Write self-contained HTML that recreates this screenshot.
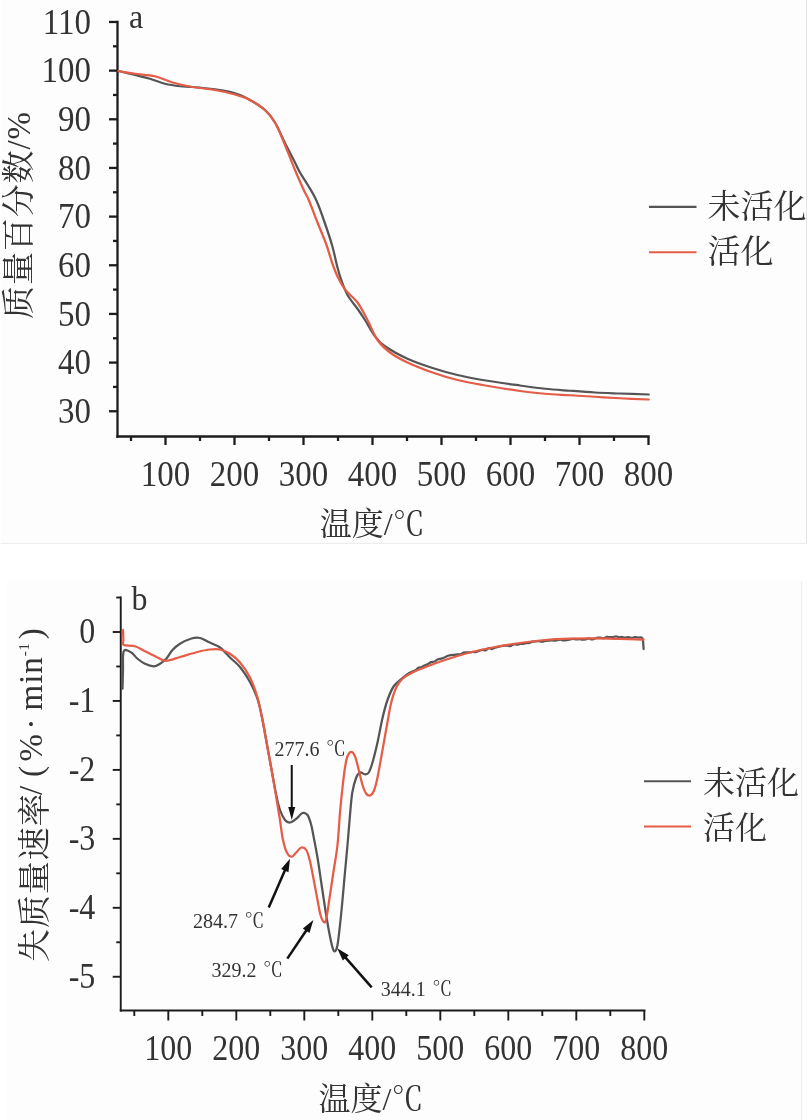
<!DOCTYPE html>
<html lang="zh-CN">
<head>
<meta charset="utf-8">
<title>TG / DTG 曲线</title>
<style>
html,body{margin:0;padding:0;background:#fff;}
body{width:808px;height:1120px;overflow:hidden;position:relative;font-family:"Liberation Serif", "Noto Serif CJK SC", serif;}
.panel{position:absolute;background:#fdfdfd;box-sizing:border-box;}
#pa{left:1px;top:0;width:806px;height:544px;border-right:1px solid #e4e4e4;border-bottom:1px solid #ededed;}
#pb{left:6px;top:581px;width:796px;height:539px;border-right:1px solid #eeeeee;}
svg{position:absolute;left:0;top:0;filter:blur(0.4px);}
text{font-family:"Liberation Serif", "Noto Serif CJK SC", serif;fill:#333;}
.lab{font-size:32px;}
.yl{font-size:33px;letter-spacing:0.9px;}
.ann{font-size:20px;word-spacing:1.5px;}
.ax{stroke:#1c1c1c;fill:none;}
.cg{stroke:#555555;fill:none;stroke-width:2.25;stroke-linejoin:round;stroke-linecap:round;}
.cr{stroke:#e55c47;fill:none;stroke-width:2.25;stroke-linejoin:round;stroke-linecap:round;}
.arr{stroke:#111;fill:none;}
.ah{fill:#111;stroke:none;}
</style>
</head>
<body>
<div class="panel" id="pa"></div>
<div class="panel" id="pb"></div>
<svg width="808" height="1120" viewBox="0 0 808 1120">

<g class="ax" stroke-width="2.3">
<path d="M117.5,20.85 V437.65"/>
<path d="M116.35,436.5 H649.65"/>
<path d="M109.0,411.25 H117.5"/>
<path d="M113.0,386.92 H117.5"/>
<path d="M109.0,362.59 H117.5"/>
<path d="M113.0,338.26 H117.5"/>
<path d="M109.0,313.93 H117.5"/>
<path d="M113.0,289.60 H117.5"/>
<path d="M109.0,265.27 H117.5"/>
<path d="M113.0,240.94 H117.5"/>
<path d="M109.0,216.61 H117.5"/>
<path d="M113.0,192.28 H117.5"/>
<path d="M109.0,167.95 H117.5"/>
<path d="M113.0,143.62 H117.5"/>
<path d="M109.0,119.29 H117.5"/>
<path d="M113.0,94.96 H117.5"/>
<path d="M109.0,70.63 H117.5"/>
<path d="M113.0,46.30 H117.5"/>
<path d="M109.0,21.97 H117.5"/>
<path d="M131.00,436.5 V441.0"/>
<path d="M165.50,436.5 V445.0"/>
<path d="M200.00,436.5 V441.0"/>
<path d="M234.50,436.5 V445.0"/>
<path d="M269.00,436.5 V441.0"/>
<path d="M303.50,436.5 V445.0"/>
<path d="M338.00,436.5 V441.0"/>
<path d="M372.50,436.5 V445.0"/>
<path d="M407.00,436.5 V441.0"/>
<path d="M441.50,436.5 V445.0"/>
<path d="M476.00,436.5 V441.0"/>
<path d="M510.50,436.5 V445.0"/>
<path d="M545.00,436.5 V441.0"/>
<path d="M579.50,436.5 V445.0"/>
<path d="M614.00,436.5 V441.0"/>
<path d="M648.50,436.5 V445.0"/>
</g>
<g class="tk" font-size="33">
<text transform="translate(91,423.05) scale(1,1.09)" text-anchor="end">30</text>
<text transform="translate(91,374.39) scale(1,1.09)" text-anchor="end">40</text>
<text transform="translate(91,325.73) scale(1,1.09)" text-anchor="end">50</text>
<text transform="translate(91,277.07) scale(1,1.09)" text-anchor="end">60</text>
<text transform="translate(91,228.41) scale(1,1.09)" text-anchor="end">70</text>
<text transform="translate(91,179.75) scale(1,1.09)" text-anchor="end">80</text>
<text transform="translate(91,131.09) scale(1,1.09)" text-anchor="end">90</text>
<text transform="translate(91,82.43) scale(1,1.09)" text-anchor="end">100</text>
<text transform="translate(91,33.77) scale(1,1.09)" text-anchor="end">110</text>
<text transform="translate(165.50,485.8) scale(1,1.09)" text-anchor="middle">100</text>
<text transform="translate(234.50,485.8) scale(1,1.09)" text-anchor="middle">200</text>
<text transform="translate(303.50,485.8) scale(1,1.09)" text-anchor="middle">300</text>
<text transform="translate(372.50,485.8) scale(1,1.09)" text-anchor="middle">400</text>
<text transform="translate(441.50,485.8) scale(1,1.09)" text-anchor="middle">500</text>
<text transform="translate(510.50,485.8) scale(1,1.09)" text-anchor="middle">600</text>
<text transform="translate(579.50,485.8) scale(1,1.09)" text-anchor="middle">700</text>
<text transform="translate(648.50,485.8) scale(1,1.09)" text-anchor="middle">800</text>
</g>
<path class="cg" d="M118.50,71.00 C121.25,71.67 129.75,73.71 135.00,75.00 C140.25,76.29 145.00,77.29 150.00,78.75 C155.00,80.21 160.00,82.50 165.00,83.75 C170.00,85.00 175.42,85.71 180.00,86.25 C184.58,86.79 186.67,86.50 192.50,87.00 C198.33,87.50 208.75,88.46 215.00,89.25 C221.25,90.04 225.83,90.79 230.00,91.75 C234.17,92.71 236.67,93.62 240.00,95.00 C243.33,96.38 245.83,97.50 250.00,100.00 C254.17,102.50 260.83,106.25 265.00,110.00 C269.17,113.75 271.67,117.00 275.00,122.50 C278.33,128.00 281.67,136.33 285.00,143.00 C288.33,149.67 292.50,157.58 295.00,162.50 C297.50,167.42 296.67,166.67 300.00,172.50 C303.33,178.33 311.04,189.58 315.00,197.50 C318.96,205.42 320.92,212.08 323.75,220.00 C326.58,227.92 329.71,237.08 332.00,245.00 C334.29,252.92 335.96,261.67 337.50,267.50 C339.04,273.33 339.58,275.42 341.25,280.00 C342.92,284.58 344.79,290.21 347.50,295.00 C350.21,299.79 354.58,304.58 357.50,308.75 C360.42,312.92 362.08,315.42 365.00,320.00 C367.92,324.58 371.67,331.88 375.00,336.25 C378.33,340.62 379.58,342.50 385.00,346.25 C390.42,350.00 399.58,355.12 407.50,358.75 C415.42,362.38 424.17,365.29 432.50,368.00 C440.83,370.71 449.17,373.00 457.50,375.00 C465.83,377.00 472.08,378.25 482.50,380.00 C492.92,381.75 509.58,384.04 520.00,385.50 C530.42,386.96 536.67,387.88 545.00,388.75 C553.33,389.62 561.67,390.12 570.00,390.75 C578.33,391.38 586.67,392.04 595.00,392.50 C603.33,392.96 611.04,393.17 620.00,393.50 C628.96,393.83 643.96,394.33 648.75,394.50"/>
<path class="cr" d="M118.50,71.00 C121.25,71.46 128.92,72.88 135.00,73.75 C141.08,74.62 148.75,74.79 155.00,76.25 C161.25,77.71 166.25,80.71 172.50,82.50 C178.75,84.29 185.42,85.75 192.50,87.00 C199.58,88.25 207.92,88.75 215.00,90.00 C222.08,91.25 229.17,92.83 235.00,94.50 C240.83,96.17 245.00,97.42 250.00,100.00 C255.00,102.58 260.83,106.25 265.00,110.00 C269.17,113.75 271.67,116.67 275.00,122.50 C278.33,128.33 281.67,137.08 285.00,145.00 C288.33,152.92 291.88,162.50 295.00,170.00 C298.12,177.50 301.46,185.00 303.75,190.00 C306.04,195.00 306.46,194.58 308.75,200.00 C311.04,205.42 314.54,215.00 317.50,222.50 C320.46,230.00 324.08,238.33 326.50,245.00 C328.92,251.67 330.08,257.08 332.00,262.50 C333.92,267.92 335.75,272.92 338.00,277.50 C340.25,282.08 342.25,285.83 345.50,290.00 C348.75,294.17 353.83,297.50 357.50,302.50 C361.17,307.50 364.17,313.75 367.50,320.00 C370.83,326.25 373.75,334.58 377.50,340.00 C381.25,345.42 385.00,348.75 390.00,352.50 C395.00,356.25 400.42,359.17 407.50,362.50 C414.58,365.83 424.17,369.58 432.50,372.50 C440.83,375.42 449.17,377.92 457.50,380.00 C465.83,382.08 472.08,383.17 482.50,385.00 C492.92,386.83 509.58,389.54 520.00,391.00 C530.42,392.46 536.67,393.04 545.00,393.75 C553.33,394.46 561.67,394.75 570.00,395.25 C578.33,395.75 586.67,396.25 595.00,396.75 C603.33,397.25 611.04,397.79 620.00,398.25 C628.96,398.71 643.96,399.29 648.75,399.50"/>
<text class="lab" transform="translate(129,28) scale(1,1.08)">a</text>
<text class="yl" transform="translate(30,215) rotate(-90)" text-anchor="middle">质量百分数/%</text>
<text class="lab" x="372.3" y="535" text-anchor="middle">温度/℃</text>
<path d="M649,206.9 H696.5" stroke="#555555" stroke-width="2.1"/>
<path d="M649,252.3 H696.5" stroke="#e55c47" stroke-width="2.1"/>
<text class="leg" font-size="33" x="707.5" y="217.5">未活化</text>
<text class="leg" font-size="33" x="707.5" y="263">活化</text>
<g class="ax" stroke-width="1.9">
<path d="M120.75,596.55 V1011.45"/>
<path d="M119.8,1010.5 H645.45"/>
<path d="M116.25,597.52 H120.75"/>
<path d="M112.75,632.00 H120.75"/>
<path d="M116.25,666.48 H120.75"/>
<path d="M112.75,700.95 H120.75"/>
<path d="M116.25,735.42 H120.75"/>
<path d="M112.75,769.90 H120.75"/>
<path d="M116.25,804.38 H120.75"/>
<path d="M112.75,838.85 H120.75"/>
<path d="M116.25,873.33 H120.75"/>
<path d="M112.75,907.80 H120.75"/>
<path d="M116.25,942.28 H120.75"/>
<path d="M112.75,976.75 H120.75"/>
<path d="M134.30,1010.5 V1016.0"/>
<path d="M168.30,1010.5 V1020.5"/>
<path d="M202.30,1010.5 V1016.0"/>
<path d="M236.30,1010.5 V1020.5"/>
<path d="M270.30,1010.5 V1016.0"/>
<path d="M304.30,1010.5 V1020.5"/>
<path d="M338.30,1010.5 V1016.0"/>
<path d="M372.30,1010.5 V1020.5"/>
<path d="M406.30,1010.5 V1016.0"/>
<path d="M440.30,1010.5 V1020.5"/>
<path d="M474.30,1010.5 V1016.0"/>
<path d="M508.30,1010.5 V1020.5"/>
<path d="M542.30,1010.5 V1016.0"/>
<path d="M576.30,1010.5 V1020.5"/>
<path d="M610.30,1010.5 V1016.0"/>
<path d="M644.30,1010.5 V1020.5"/>
</g>
<g class="tk" font-size="32">
<text transform="translate(95.3,643.40) scale(1,1.11)" text-anchor="end">0</text>
<text transform="translate(95.3,712.35) scale(1,1.11)" text-anchor="end">-1</text>
<text transform="translate(95.3,781.30) scale(1,1.11)" text-anchor="end">-2</text>
<text transform="translate(95.3,850.25) scale(1,1.11)" text-anchor="end">-3</text>
<text transform="translate(95.3,919.20) scale(1,1.11)" text-anchor="end">-4</text>
<text transform="translate(95.3,988.15) scale(1,1.11)" text-anchor="end">-5</text>
<text transform="translate(168.30,1060.2) scale(1,1.11)" text-anchor="middle">100</text>
<text transform="translate(236.30,1060.2) scale(1,1.11)" text-anchor="middle">200</text>
<text transform="translate(304.30,1060.2) scale(1,1.11)" text-anchor="middle">300</text>
<text transform="translate(372.30,1060.2) scale(1,1.11)" text-anchor="middle">400</text>
<text transform="translate(440.30,1060.2) scale(1,1.11)" text-anchor="middle">500</text>
<text transform="translate(508.30,1060.2) scale(1,1.11)" text-anchor="middle">600</text>
<text transform="translate(576.30,1060.2) scale(1,1.11)" text-anchor="middle">700</text>
<text transform="translate(644.30,1060.2) scale(1,1.11)" text-anchor="middle">800</text>
</g>
<path class="cg" d="M122.50,688.75 C122.58,685.62 122.79,676.25 123.00,670.00 C123.21,663.75 122.38,654.17 123.75,651.25 C125.12,648.33 128.96,651.25 131.25,652.50 C133.54,653.75 135.21,656.88 137.50,658.75 C139.79,660.62 142.29,662.50 145.00,663.75 C147.71,665.00 151.25,666.25 153.75,666.25 C156.25,666.25 157.92,665.00 160.00,663.75 C162.08,662.50 164.17,661.04 166.25,658.75 C168.33,656.46 170.21,652.50 172.50,650.00 C174.79,647.50 176.83,645.67 180.00,643.75 C183.17,641.83 188.17,639.46 191.50,638.50 C194.83,637.54 197.17,637.42 200.00,638.00 C202.83,638.58 205.17,640.42 208.50,642.00 C211.83,643.58 216.42,644.92 220.00,647.50 C223.58,650.08 226.67,654.25 230.00,657.50 C233.33,660.75 236.67,662.92 240.00,667.00 C243.33,671.08 247.08,676.67 250.00,682.00 C252.92,687.33 255.42,692.67 257.50,699.00 C259.58,705.33 260.83,711.92 262.50,720.00 C264.17,728.08 265.83,738.33 267.50,747.50 C269.17,756.67 271.04,767.08 272.50,775.00 C273.96,782.92 275.00,789.17 276.25,795.00 C277.50,800.83 278.54,805.83 280.00,810.00 C281.46,814.17 283.33,817.92 285.00,820.00 C286.67,822.08 288.12,822.71 290.00,822.50 C291.88,822.29 294.17,820.33 296.25,818.75 C298.33,817.17 300.62,813.62 302.50,813.00 C304.38,812.38 306.04,813.00 307.50,815.00 C308.96,817.00 310.21,821.25 311.25,825.00 C312.29,828.75 312.71,832.08 313.75,837.50 C314.79,842.92 316.25,850.00 317.50,857.50 C318.75,865.00 320.00,874.17 321.25,882.50 C322.50,890.83 323.75,899.58 325.00,907.50 C326.25,915.42 327.50,923.33 328.75,930.00 C330.00,936.67 331.46,943.96 332.50,947.50 C333.54,951.04 334.17,951.67 335.00,951.25 C335.83,950.83 336.67,949.38 337.50,945.00 C338.33,940.62 339.17,932.50 340.00,925.00 C340.83,917.50 341.67,908.83 342.50,900.00 C343.33,891.17 344.17,881.17 345.00,872.00 C345.83,862.83 346.67,854.50 347.50,845.00 C348.33,835.50 349.20,823.75 350.00,815.00 C350.80,806.25 351.26,798.75 352.30,792.50 C353.34,786.25 354.97,780.83 356.25,777.50 C357.53,774.17 358.54,773.04 360.00,772.50 C361.46,771.96 363.54,774.25 365.00,774.25 C366.46,774.25 367.50,774.46 368.75,772.50 C370.00,770.54 371.04,767.50 372.50,762.50 C373.96,757.50 375.83,749.92 377.50,742.50 C379.17,735.08 380.83,725.08 382.50,718.00 C384.17,710.92 385.62,705.29 387.50,700.00 C389.38,694.71 391.25,689.92 393.75,686.25 C396.25,682.58 400.49,679.79 402.50,678.00 C404.51,676.21 404.72,676.34 405.83,675.52 C406.94,674.69 408.06,673.71 409.17,673.04 C410.28,672.37 411.44,671.95 412.50,671.50 C413.56,671.05 414.50,670.94 415.50,670.33 C416.50,669.72 417.50,668.36 418.50,667.85 C419.50,667.34 420.50,667.64 421.50,667.24 C422.50,666.85 423.50,665.99 424.50,665.50 C425.50,665.01 426.42,664.87 427.50,664.30 C428.58,663.73 429.83,662.57 431.00,662.10 C432.17,661.64 433.33,661.99 434.50,661.51 C435.67,661.04 436.83,659.76 438.00,659.27 C439.17,658.78 440.33,658.91 441.50,658.58 C442.67,658.25 443.90,657.77 445.00,657.30 C446.10,656.83 447.08,656.15 448.12,655.78 C449.17,655.40 450.21,655.21 451.25,655.06 C452.29,654.92 453.33,655.04 454.38,654.91 C455.42,654.79 456.46,654.39 457.50,654.30 C458.54,654.21 459.58,654.67 460.62,654.39 C461.67,654.11 462.71,652.97 463.75,652.62 C464.79,652.28 465.83,652.36 466.88,652.30 C467.92,652.25 468.96,652.36 470.00,652.30 C471.04,652.24 472.08,652.02 473.12,651.97 C474.17,651.91 475.21,652.18 476.25,651.98 C477.29,651.78 478.33,651.10 479.38,650.75 C480.42,650.40 481.46,649.93 482.50,649.86 C483.54,649.80 484.58,650.64 485.62,650.34 C486.67,650.05 487.71,648.33 488.75,648.11 C489.79,647.89 490.83,649.06 491.88,649.01 C492.92,648.96 493.96,648.14 495.00,647.80 C496.04,647.46 497.08,647.21 498.12,646.95 C499.17,646.68 500.21,646.42 501.25,646.21 C502.29,646.00 503.33,645.80 504.38,645.69 C505.42,645.58 506.46,645.50 507.50,645.56 C508.54,645.61 509.58,646.19 510.62,645.99 C511.67,645.80 512.71,644.60 513.75,644.38 C514.79,644.15 515.83,644.68 516.88,644.62 C517.92,644.56 518.96,644.12 520.00,644.00 C521.04,643.88 522.08,644.04 523.12,643.88 C524.17,643.71 525.21,643.17 526.25,643.02 C527.29,642.87 528.33,643.18 529.38,642.96 C530.42,642.74 531.46,641.98 532.50,641.71 C533.54,641.44 534.58,641.41 535.62,641.33 C536.67,641.25 537.71,641.16 538.75,641.22 C539.79,641.28 540.83,641.74 541.88,641.70 C542.92,641.66 543.96,641.17 545.00,641.00 C546.04,640.83 547.08,640.80 548.12,640.68 C549.17,640.56 550.21,640.31 551.25,640.29 C552.29,640.28 553.33,640.61 554.38,640.59 C555.42,640.57 556.46,640.31 557.50,640.17 C558.54,640.02 559.58,639.66 560.62,639.70 C561.67,639.74 562.71,640.35 563.75,640.40 C564.79,640.46 565.83,640.20 566.88,640.05 C567.92,639.89 568.96,639.69 570.00,639.50 C571.04,639.31 572.08,638.93 573.12,638.91 C574.17,638.90 575.21,639.34 576.25,639.38 C577.29,639.43 578.33,639.12 579.38,639.17 C580.42,639.22 581.46,639.66 582.50,639.68 C583.54,639.69 584.58,639.51 585.62,639.29 C586.67,639.07 587.71,638.33 588.75,638.37 C589.79,638.40 590.83,639.47 591.88,639.49 C592.92,639.51 593.98,638.82 595.00,638.50 C596.02,638.18 597.00,637.66 598.00,637.55 C599.00,637.44 600.00,637.73 601.00,637.83 C602.00,637.94 603.00,638.35 604.00,638.18 C605.00,638.02 606.00,637.00 607.00,636.83 C608.00,636.67 609.00,637.15 610.00,637.20 C611.00,637.25 612.00,637.29 613.00,637.13 C614.00,636.98 615.00,636.23 616.00,636.27 C617.00,636.31 618.00,637.23 619.00,637.35 C620.00,637.47 620.96,636.97 622.00,637.00 C623.04,637.03 624.17,637.49 625.25,637.53 C626.33,637.56 627.42,637.18 628.50,637.23 C629.58,637.28 630.67,637.83 631.75,637.83 C632.83,637.82 633.83,637.25 635.00,637.20 C636.17,637.15 637.50,637.30 638.75,637.51 C640.00,637.73 641.69,636.59 642.50,638.50 C643.31,640.41 643.42,647.25 643.60,649.00"/>
<path class="cr" d="M123.00,630.00 C123.07,631.67 123.28,637.50 123.40,640.00 C123.53,642.50 121.82,643.96 123.75,645.00 C125.68,646.04 131.46,645.21 135.00,646.25 C138.54,647.29 141.25,649.38 145.00,651.25 C148.75,653.12 153.96,655.92 157.50,657.50 C161.04,659.08 162.50,660.83 166.25,660.75 C170.00,660.67 174.79,658.46 180.00,657.00 C185.21,655.54 192.50,653.25 197.50,652.00 C202.50,650.75 206.25,649.92 210.00,649.50 C213.75,649.08 216.67,648.79 220.00,649.50 C223.33,650.21 226.67,651.58 230.00,653.75 C233.33,655.92 236.67,658.54 240.00,662.50 C243.33,666.46 247.08,671.67 250.00,677.50 C252.92,683.33 255.42,690.42 257.50,697.50 C259.58,704.58 260.83,711.67 262.50,720.00 C264.17,728.33 265.83,738.33 267.50,747.50 C269.17,756.67 270.83,765.42 272.50,775.00 C274.17,784.58 276.25,797.50 277.50,805.00 C278.75,812.50 279.17,814.58 280.00,820.00 C280.83,825.42 281.46,832.29 282.50,837.50 C283.54,842.71 284.79,848.04 286.25,851.25 C287.71,854.46 289.58,856.54 291.25,856.75 C292.92,856.96 294.58,854.04 296.25,852.50 C297.92,850.96 299.58,847.92 301.25,847.50 C302.92,847.08 304.79,847.71 306.25,850.00 C307.71,852.29 308.75,856.25 310.00,861.25 C311.25,866.25 312.50,873.54 313.75,880.00 C315.00,886.46 316.38,894.17 317.50,900.00 C318.62,905.83 319.46,911.33 320.50,915.00 C321.54,918.67 322.79,921.38 323.75,922.00 C324.71,922.62 325.21,923.25 326.25,918.75 C327.29,914.25 328.75,903.12 330.00,895.00 C331.25,886.88 332.50,878.33 333.75,870.00 C335.00,861.67 336.46,854.58 337.50,845.00 C338.54,835.42 339.17,822.08 340.00,812.50 C340.83,802.92 341.67,795.00 342.50,787.50 C343.33,780.00 344.17,772.71 345.00,767.50 C345.83,762.29 346.46,758.88 347.50,756.25 C348.54,753.62 350.00,751.75 351.25,751.75 C352.50,751.75 353.75,753.21 355.00,756.25 C356.25,759.29 357.50,765.21 358.75,770.00 C360.00,774.79 361.25,781.04 362.50,785.00 C363.75,788.96 365.00,792.00 366.25,793.75 C367.50,795.50 368.75,795.92 370.00,795.50 C371.25,795.08 372.50,794.25 373.75,791.25 C375.00,788.25 376.04,784.38 377.50,777.50 C378.96,770.62 380.83,759.25 382.50,750.00 C384.17,740.75 386.04,729.92 387.50,722.00 C388.96,714.08 389.79,708.25 391.25,702.50 C392.71,696.75 394.38,691.46 396.25,687.50 C398.12,683.54 399.79,681.25 402.50,678.75 C405.21,676.25 408.33,674.58 412.50,672.50 C416.67,670.42 422.08,668.33 427.50,666.25 C432.92,664.17 437.92,662.29 445.00,660.00 C452.08,657.71 461.67,654.67 470.00,652.50 C478.33,650.33 486.67,648.58 495.00,647.00 C503.33,645.42 511.67,644.17 520.00,643.00 C528.33,641.83 536.67,640.72 545.00,640.00 C553.33,639.28 561.67,638.97 570.00,638.70 C578.33,638.43 586.67,638.37 595.00,638.40 C603.33,638.43 611.92,638.70 620.00,638.90 C628.08,639.10 639.58,639.48 643.50,639.60"/>
<text class="lab" transform="translate(131.5,609.5) scale(1,1.08)">b</text>
<text class="yl" transform="translate(42,962) rotate(-90)" xml:space="preserve"><tspan dy="4">失质量速率</tspan><tspan dy="-4" dx="-2.5">/</tspan><tspan dx="-1.1"> (</tspan><tspan dx="3.6">%</tspan><tspan dx="3.4">·</tspan><tspan dx="7.3">min</tspan><tspan font-size="15" dy="-12.8">-1</tspan><tspan dy="12.8" dx="2.7">)</tspan></text>
<text class="lab" x="371" y="1110" text-anchor="middle">温度/℃</text>
<path d="M644,781.2 H691" stroke="#555555" stroke-width="2.1"/>
<path d="M644,826.5 H691" stroke="#e55c47" stroke-width="2.1"/>
<text class="leg" font-size="32" x="703" y="793.5">未活化</text>
<text class="leg" font-size="32" x="703" y="839">活化</text>
<path class="arr" stroke-width="2.0" d="M291.75,765.00 L291.75,809.00"/>
<path class="ah" d="M291.75,820.00 L288.25,807.00 L295.25,807.00 Z"/>
<path class="arr" stroke-width="2.5" d="M268.75,907.50 L285.60,868.83"/>
<path class="ah" d="M290.00,858.75 L288.47,872.27 L281.14,869.07 Z"/>
<path class="arr" stroke-width="2.5" d="M287.30,958.60 L307.25,929.02"/>
<path class="ah" d="M313.40,919.90 L309.45,932.91 L302.81,928.44 Z"/>
<path class="arr" stroke-width="2.5" d="M371.70,987.30 L344.48,956.45"/>
<path class="ah" d="M337.20,948.20 L348.80,955.30 L342.80,960.59 Z"/>
<g class="ann">
<text x="274.5" y="756">277.6 ℃</text>
<text x="193" y="928">284.7 ℃</text>
<text x="211.5" y="976.5">329.2 ℃</text>
<text x="380.8" y="995.5">344.1 ℃</text>
</g>
</svg>
</body>
</html>
